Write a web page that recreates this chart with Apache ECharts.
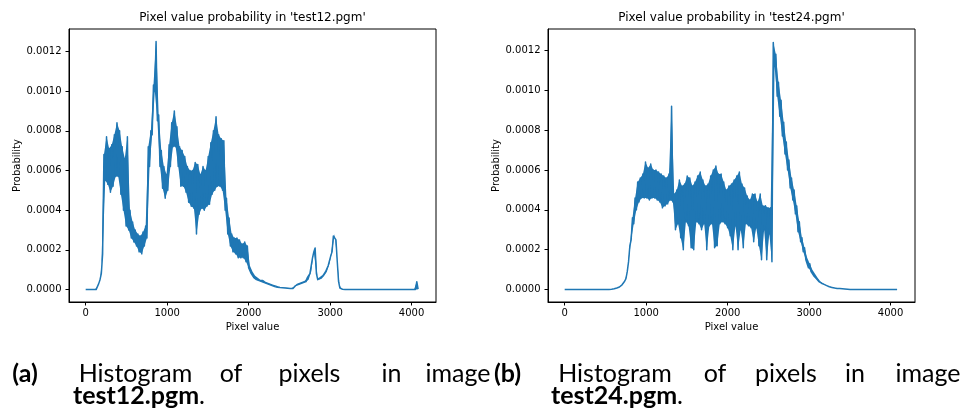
<!DOCTYPE html>
<html lang="en">
<head>
<meta charset="UTF-8">
<title>Pixel value probability</title>
<script src="https://cdn.jsdelivr.net/npm/echarts@6/dist/echarts.min.js"></script>
<style>
  html, body { margin: 0; padding: 0; background: #fff; }
  #main { width: 964px; height: 416px; }
</style>
</head>
<body>
<div id="main"></div>
<script>
// histogram readings, in units of 1e-5 (probability)
// upper: value read at pixel 32*i, lower: value read at pixel 32*i + 16
var STEP = 32;

var test12Upper = [
  0, 0, 0, 0, 0, 3, 8, 68, 77, 71, 73, 78, 84, 80, 72, 66,
  77, 40, 34, 30, 28, 27, 29, 32, 72, 80, 103, 125, 88, 70, 62, 58,
  73, 84, 90, 82, 72, 70, 67, 62, 60, 60, 64, 63, 58, 62, 60, 67,
  74, 80, 87, 78, 76, 75, 46, 36, 28, 26, 26, 25, 23, 24, 22, 12,
  9, 7, 6, 5, 5, 4, 3.5, 3, 2.5, 2, 1.5, 1.2, 1, 0.9, 0.8, 0.8,
  1.5, 3, 3.5, 4, 4.5, 6, 8, 16, 21, 5, 6, 7, 9, 12, 17, 27,
  25, 4, 0.3, 0.3, 0.3, 0.3, 0.3, 0.3, 0.3, 0.3, 0.3, 0.3, 0.3, 0.3, 0.3, 0.3,
  0.3, 0.3, 0.3, 0.3, 0.3, 0.3, 0.3, 0.3, 0.3, 0.3, 0.3, 0.3, 0.3, 0.3, 0.3, 4
];
var test12Lower = [
  0, 0, 0, 0, 1.5, 5, 18, 55, 53, 49, 52, 57, 57, 48, 40, 32,
  30, 26, 24, 22, 19, 18, 22, 26, 62, 78, 100, 85, 62, 51, 46, 50,
  62, 72, 72, 62, 52, 52, 49, 44, 42, 41, 28, 38, 41, 40, 42, 43,
  48, 50, 52, 52, 50, 40, 28, 22, 19, 18, 16, 16, 16, 14, 11, 8,
  6, 5, 4.5, 4, 3.5, 3, 2.5, 2, 1.5, 1.2, 1, 0.9, 0.8, 0.7, 0.6, 0.6,
  2, 2.5, 3, 3.5, 4, 5, 9, 19, 8, 5, 5.5, 7, 9, 13, 19, 28,
  14, 0.8, 0.2, 0.1, 0.1, 0.1, 0.1, 0.1, 0.1, 0.1, 0.1, 0.1, 0.1, 0.1, 0.1, 0.1,
  0.1, 0.1, 0.1, 0.1, 0.1, 0.1, 0.1, 0.1, 0.1, 0.1, 0.1, 0.1, 0.1, 0.1, 0.1, 0.2
];

var test24Upper = [
  0, 0, 0, 0, 0, 0, 0, 0, 0, 0, 0, 0, 0, 0, 0, 0,
  0, 0.05, 0.2, 0.4, 0.8, 1.3, 2.4, 4.2, 9, 22, 36, 46, 54, 56, 58, 64,
  61, 63, 60, 60, 59, 58, 57, 56, 58, 92, 48, 50, 55, 52, 53, 57,
  56, 52, 54, 57, 59, 55, 52, 53, 57, 60, 62, 58, 58, 54, 50, 52,
  53, 55, 57, 59, 53, 51, 47, 45, 48, 48, 44, 48, 42, 42, 41, 41,
  124, 118, 104, 95, 84, 74, 65, 56, 50, 42, 34, 26, 21, 16, 13, 10,
  8, 6, 4.2, 3.2, 2.4, 1.8, 1.4, 1, 0.8, 0.6, 0.5, 0.3, 0.2, 0.1, 0, 0,
  0, 0, 0, 0, 0, 0, 0, 0, 0, 0, 0, 0, 0, 0, 0, 0
];
var test24Lower = [
  0, 0, 0, 0, 0, 0, 0, 0, 0, 0, 0, 0, 0, 0, 0, 0,
  0, 0.1, 0.3, 0.6, 1, 1.7, 3, 5.5, 14, 25, 33, 40, 44, 46, 46, 46,
  45, 46, 46, 45, 44, 41, 42, 43, 45, 44, 30, 33, 26, 20, 34, 32,
  21, 20, 34, 33, 30, 33, 20, 32, 33, 21, 22, 33, 34, 33, 31, 27,
  20, 32, 20, 30, 21, 33, 32, 31, 24, 31, 22, 15, 30, 15, 28, 14,
  112, 97, 87, 77, 68, 60, 51, 45, 38, 29, 24, 19, 15, 11, 9, 7,
  5.5, 4, 3.2, 2.6, 2, 1.4, 1.1, 0.8, 0.6, 0.5, 0.4, 0.3, 0.2, 0.1, 0, 0,
  0, 0, 0, 0, 0, 0, 0, 0, 0, 0, 0, 0, 0, 0, 0, 0
];

var xTicks = [0, 1000, 2000, 3000, 4000];
var yTicks = [0, 0.0002, 0.0004, 0.0006, 0.0008, 0.0010, 0.0012];

var titles = ["Pixel value probability in 'test12.pgm'", "Pixel value probability in 'test24.pgm'"];

// the plotted line: alternate between the upper and lower readings
function buildLine(upper, lower) {
  var pts = [];
  for (var i = 0; i < upper.length; i++) {
    pts.push([i * STEP, upper[i] * 1e-5]);
    pts.push([i * STEP + STEP / 2, lower[i] * 1e-5]);
  }
  return pts;
}

// outline of the dense noisy band: upper readings forward, lower ones back
function buildBand(upper, lower) {
  var pts = [];
  for (var i = 0; i < upper.length; i++) pts.push([i * STEP, upper[i] * 1e-5]);
  for (var j = lower.length - 1; j >= 0; j--) pts.push([j * STEP + STEP / 2, lower[j] * 1e-5]);
  return pts;
}

var chart = echarts.init(document.getElementById('main'), null, { renderer: 'canvas' });

var FONT = 'DejaVu Sans';
var INK = '#000';
var BLUE = '#1f77b4';

function xAxisFor(idx) {
  return {
    gridIndex: idx,
    type: 'value',
    min: -204.75,
    max: 4299.75,
    name: 'Pixel value',
    nameLocation: 'middle',
    nameGap: 20,
    nameTextStyle: { fontFamily: FONT, fontSize: 10, color: INK },
    axisLine: { show: true, onZero: false, lineStyle: { color: INK, width: 1 } },
    axisTick: { show: true, length: 3.5, inside: false, customValues: xTicks, lineStyle: { color: INK, width: 1 } },
    axisLabel: {
      customValues: xTicks, margin: 6,
      fontFamily: FONT, fontSize: 10, color: INK,
      formatter: function (v) { return String(v); }
    },
    splitLine: { show: false }
  };
}

function yAxisFor(idx, maxVal) {
  var pad = maxVal * 0.05;
  return {
    gridIndex: idx,
    type: 'value',
    min: -pad,
    max: maxVal + pad,
    name: 'Probability',
    nameLocation: 'middle',
    nameGap: 47,
    nameTextStyle: { fontFamily: FONT, fontSize: 10, color: INK },
    axisLine: { show: true, onZero: false, lineStyle: { color: INK, width: 1 } },
    axisTick: { show: true, length: 3.5, inside: false, customValues: yTicks, lineStyle: { color: INK, width: 1 } },
    axisLabel: {
      customValues: yTicks, margin: 7.5,
      fontFamily: FONT, fontSize: 10, color: INK,
      formatter: function (v) { return v.toFixed(4); }
    },
    splitLine: { show: false }
  };
}

function lineSeries(idx, data) {
  return {
    type: 'line',
    xAxisIndex: idx,
    yAxisIndex: idx,
    data: data,
    showSymbol: false,
    symbol: 'none',
    sampling: null,
    clip: true,
    z: 3,
    lineStyle: { color: BLUE, width: 1.5, join: 'round' },
    silent: true
  };
}

function bandSeries(idx, band) {
  return {
    type: 'custom',
    xAxisIndex: idx,
    yAxisIndex: idx,
    data: [0],
    silent: true,
    z: 2,
    renderItem: function (params, api) {
      var pts = band.map(function (p) { return api.coord(p); });
      return { type: 'polygon', shape: { points: pts }, style: { fill: BLUE, stroke: null } };
    }
  };
}

// caption words: [text, centre x, bold]
var captionA1 = [['(a)', 25, true], ['Histogram', 135.5], ['of', 231], ['pixels', 309.5], ['in', 391.5], ['image', 458]];
var captionB1 = [['(b)', 507.5, true], ['Histogram', 615], ['of', 715], ['pixels', 786], ['in', 855], ['image', 928]];
var captionA2 = ['test12.pgm', 73];
var captionB2 = ['test24.pgm', 551];

var CAP_FONT = 'Lato';
var CAP_SIZE = 25;

var graphics = [];
function addWords(words, y) {
  words.forEach(function (w) {
    graphics.push({
      type: 'text', x: w[1], y: y, silent: true,
      style: {
        text: w[0],
        fontFamily: CAP_FONT, fontSize: CAP_SIZE, fontWeight: w[2] ? 'bold' : 'normal',
        fill: '#000', align: 'center', verticalAlign: 'middle'
      }
    });
  });
}
function addFileLine(item, y) {
  graphics.push({
    type: 'text', x: item[1], y: y, silent: true,
    style: {
      text: '{b|' + item[0] + '}.',
      fontFamily: CAP_FONT, fontSize: CAP_SIZE, fill: '#000',
      align: 'left', verticalAlign: 'middle',
      rich: { b: { fontFamily: CAP_FONT, fontSize: CAP_SIZE, fontWeight: 'bold', fill: '#000' } }
    }
  });
}
addWords(captionA1, 374);
addWords(captionB1, 374);
addFileLine(captionA2, 396);
addFileLine(captionB2, 396);

// plot titles
graphics.push({ type: 'text', x: 252.5, y: 18, silent: true,
  style: { text: titles[0], font: '12px "DejaVu Sans"', fill: INK, align: 'center', verticalAlign: 'middle' } });
graphics.push({ type: 'text', x: 731.5, y: 18, silent: true,
  style: { text: titles[1], font: '12px "DejaVu Sans"', fill: INK, align: 'center', verticalAlign: 'middle' } });

var option = {
  animation: false,
  backgroundColor: '#fff',
  grid: [
    { left: 69, top: 29, right: 528, bottom: 114, show: true, borderColor: INK, borderWidth: 1, backgroundColor: 'transparent' },
    { left: 548, top: 29, right: 49, bottom: 114, show: true, borderColor: INK, borderWidth: 1, backgroundColor: 'transparent' }
  ],
  xAxis: [xAxisFor(0), xAxisFor(1)],
  yAxis: [yAxisFor(0, 0.00125), yAxisFor(1, 0.001245)],
  series: [
    bandSeries(0, buildBand(test12Upper, test12Lower)),
    lineSeries(0, buildLine(test12Upper, test12Lower)),
    bandSeries(1, buildBand(test24Upper, test24Lower)),
    lineSeries(1, buildLine(test24Upper, test24Lower))
  ],
  graphic: graphics
};

chart.setOption(option);
</script>
</body>
</html>
